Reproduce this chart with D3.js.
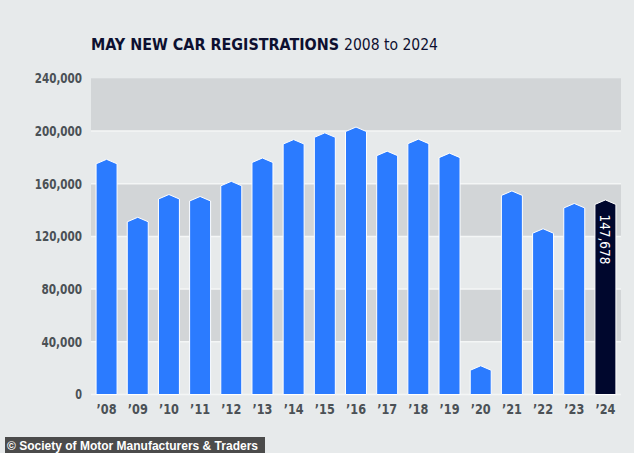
<!DOCTYPE html>
<html><head><meta charset="utf-8">
<script src="https://cdn.jsdelivr.net/npm/d3@7"></script>
<style>
html,body{margin:0;padding:0;background:#e7eaeb;}
svg{display:block;}
</style></head>
<body>
<svg id="chart" width="634" height="453"></svg>
<script>
const years = ["2008","2009","2010","2011","2012","2013","2014","2015","2016","2017","2018","2019","2020","2021","2022","2023","2024"];
const yearLabels = ["’08","’09","’10","’11","’12","’13","’14","’15","’16","’17","’18","’19","’20","’21","’22","’23","’24"];
const registrations = [178500,134500,151800,150300,161800,179500,193500,198600,203000,184700,193800,183200,21800,154500,125800,145000,147678];
const yTicks = [0,40000,80000,120000,160000,200000,240000];
const highlightYear = "2024";

const svg = d3.select("#chart");
const fontC = "'DejaVu Sans Condensed','DejaVu Sans',sans-serif";

const x = d3.scaleBand().domain(years).range([91, 621]).paddingInner(0.327).paddingOuter(0.163);
const y = d3.scaleLinear().domain([0, 240000]).range([394.5, 78.3]);

// background
svg.append("rect").attr("width",634).attr("height",453).attr("fill","#e7eaeb");

// alternating bands
const bands = [];
for (let i = 0; i < yTicks.length - 1; i++) bands.push([yTicks[i], yTicks[i+1], i]);
svg.append("g").selectAll("rect").data(bands.filter(b => b[2] % 2 === 1)).join("rect")
  .attr("x", 91).attr("width", 530)
  .attr("y", d => y(d[1])).attr("height", d => y(d[0]) - y(d[1]))
  .attr("fill", "#d2d5d7");

// white grid lines
svg.append("g").selectAll("line").data(yTicks.slice(0, -1)).join("line")
  .attr("x1", 91).attr("x2", 621)
  .attr("y1", d => y(d)).attr("y2", d => y(d))
  .attr("stroke", "#f4f6f6").attr("stroke-width", 1.5);

// bars with pointed tops
const peak = 4.5;
svg.append("g").selectAll("path").data(years.map((yr, i) => ({yr, v: registrations[i]}))).join("path")
  .attr("d", d => {
    const x0 = x(d.yr), w = x.bandwidth(), yp = y(d.v), ys = yp + peak, yb = y(0);
    return `M${x0},${yb}L${x0},${ys}L${x0 + w/2},${yp}L${x0 + w},${ys}L${x0 + w},${yb}Z`;
  })
  .attr("fill", d => d.yr === highlightYear ? "#00072d" : "#2b7bff")
  .attr("stroke", "#ffffff").attr("stroke-width", 1);

// highlight label
const hi = years.indexOf(highlightYear);
const hx = x(highlightYear) + x.bandwidth()/2;
const hy = y(registrations[hi]) + 14.5;
svg.append("text")
  .attr("transform", `translate(${hx},${hy}) rotate(90)`)
  .attr("x", 0).attr("y", 0).attr("dy", "0.36em")
  .attr("text-anchor", "start")
  .attr("font-family", fontC).attr("font-size", 14).attr("fill", "#ffffff")
  .attr("textLength", 50).attr("lengthAdjust", "spacingAndGlyphs")
  .text(d3.format(",")(registrations[hi]));

// y axis
const yAxis = svg.append("g").attr("transform", "translate(83,0)")
  .call(d3.axisLeft(y).tickValues(yTicks).tickSize(0).tickPadding(1).tickFormat(d3.format(",")));
yAxis.select(".domain").remove();
yAxis.selectAll("text").attr("font-family", fontC).attr("font-size", 13.5).attr("font-weight", "bold").attr("fill", "#4b5156")
  .each(function(d){ const n = d3.format(",")(d).length; d3.select(this).attr("textLength", n * 6.75).attr("lengthAdjust", "spacingAndGlyphs"); });

// x axis
const xAxis = svg.append("g").attr("transform", `translate(0,${y(0)})`)
  .call(d3.axisBottom(x).tickSize(0).tickPadding(10).tickFormat((d, i) => yearLabels[i]));
xAxis.select(".domain").remove();
xAxis.selectAll("text").attr("font-family", fontC).attr("font-size", 13.5).attr("font-weight", "bold").attr("fill", "#4b5156")
  .attr("textLength", 20).attr("lengthAdjust", "spacingAndGlyphs");

// title
svg.append("text").attr("x", 91).attr("y", 50)
  .attr("font-family", fontC).attr("font-size", 16).attr("font-weight", "bold").attr("fill", "#0d1030")
  .attr("textLength", 248).attr("lengthAdjust", "spacingAndGlyphs")
  .text("MAY NEW CAR REGISTRATIONS");
svg.append("text").attr("x", 344).attr("y", 50)
  .attr("font-family", fontC).attr("font-size", 16).attr("fill", "#0d1030")
  .attr("textLength", 94).attr("lengthAdjust", "spacingAndGlyphs")
  .text("2008 to 2024");

// caption
svg.append("rect").attr("x", 5).attr("y", 437).attr("width", 260).attr("height", 16).attr("fill", "#4b4b4b");
svg.append("text").attr("x", 7).attr("y", 449.5)
  .attr("font-family", "'Liberation Sans',Arial,sans-serif").attr("font-size", 12).attr("font-weight", "bold").attr("fill", "#ffffff")
  .attr("textLength", 251).attr("lengthAdjust", "spacingAndGlyphs")
  .text("© Society of Motor Manufacturers & Traders");
</script>
</body></html>
